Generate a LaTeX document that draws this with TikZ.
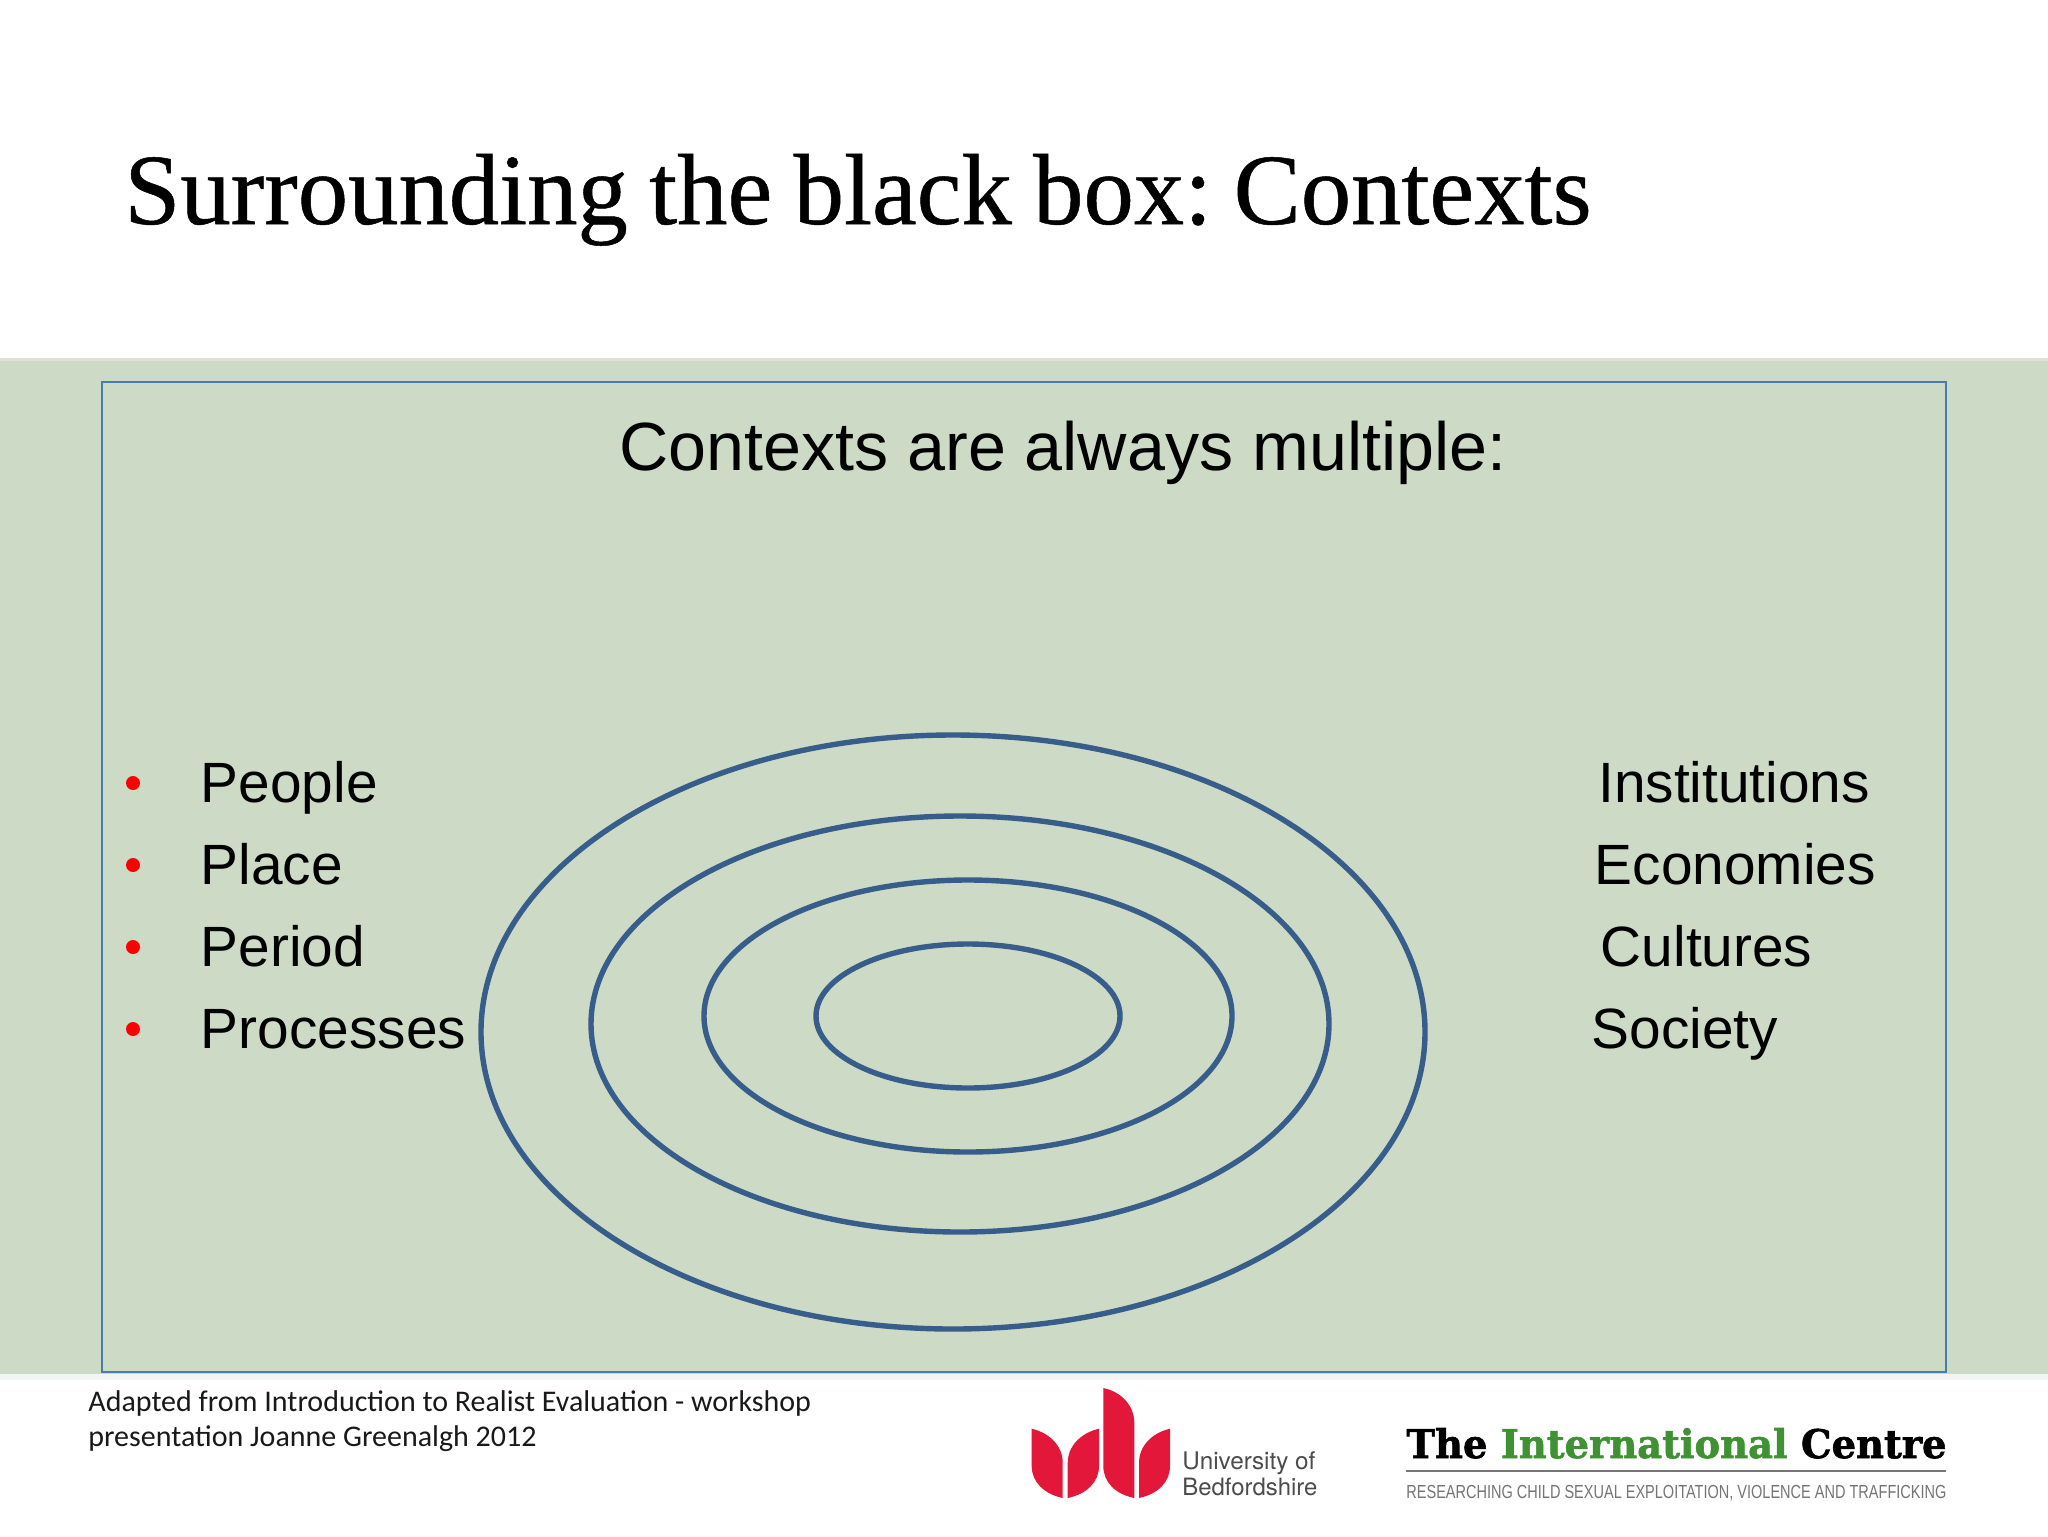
\documentclass[tikz,border=0pt]{standalone}
\usepackage{fontspec}
\setmainfont{Liberation Sans}
\newfontfamily\titlefont[FakeBold=0.5,WordSpace=0.85]{Liberation Serif}
\newfontfamily\footfont{Carlito}
\newfontfamily\slabfont[FakeBold=1.6]{DejaVu Serif Bold}
\newfontfamily\logofont{TeX Gyre Heros}
\definecolor{bandgreen}{HTML}{CCDAC6}
\definecolor{bandedge}{HTML}{DDE0DB}
\definecolor{footedge}{HTML}{F1F5F4}
\definecolor{boxblue}{HTML}{4A7BAA}
\definecolor{ringblue}{HTML}{385D8A}
\definecolor{petalred}{HTML}{E2173A}
\definecolor{logogreen}{HTML}{3F9134}
\definecolor{taggray}{HTML}{757575}
\tikzset{
  listtext/.style={anchor=base west,inner sep=0pt,font=\fontsize{28.4}{32}\selectfont,text=black},
  ring/.style={draw=ringblue,line width=2.7pt},
  bulletdot/.style={circle,fill=red,inner sep=0pt,minimum size=7pt},
  foottext/.style={anchor=base west,inner sep=0pt,font=\footfont\fontsize{15}{18}\selectfont,text=black!90},
  petal/.style={fill=petalred,draw=none}
}
\begin{document}
\begin{tikzpicture}[x=0.5pt,y=-0.5pt]
\useasboundingbox (0,0) rectangle (2048,1536);
\fill[white] (0,0) rectangle (2048,1536);
\fill[footedge] (0,1374) rectangle (2048,1380);
\fill[bandgreen] (0,358) rectangle (2048,1374);
\fill[bandedge] (0,358) rectangle (2048,361);
\draw[boxblue,line width=1.4pt] (102,382) rectangle (1946,1372);
\node[anchor=base west,inner sep=0pt] (title) at (124,224) {\titlefont\frenchspacing\resizebox{733.5pt}{35pt}{Surrounding the black box: Contexts}};
\node[anchor=base west,inner sep=0pt,font=\fontsize{34.1}{40}\selectfont] (head) at (619,470) {Contexts are always multiple:};
\foreach \n/\t/\y in {a/People/802,b/Place/884,c/Period/966,d/Processes/1048}{
  \node[listtext] (l\n) at (200.5,\y) {\t};
  \node[bulletdot] (b\n) at (133,\y-19) {};
}
\node[listtext] (r1) at (1598,802) {Institutions};
\node[listtext] (r2) at (1594.5,884) {Economies};
\node[listtext] (r3) at (1600.5,966) {Cultures};
\node[listtext] (r4) at (1591.5,1048) {Society};
\draw[ring] (953,1032) ellipse [x radius=472,y radius=297];
\draw[ring] (960,1024) ellipse [x radius=369,y radius=208];
\draw[ring] (968,1016) ellipse [x radius=264,y radius=136];
\draw[ring] (968,1016) ellipse [x radius=152,y radius=72];
\node[foottext] (f1) at (88,1411) {Adapted from Introduction to Realist Evaluation - workshop};
\node[foottext] (f2) at (88,1446) {presentation Joanne Greenalgh 2012};
% University logo
\fill[petal] (1031.7,1428.7) .. controls (1050,1433) and (1062.7,1446) .. (1062.7,1463) -- (1062.7,1498) .. controls (1044,1494) and (1031.7,1482) .. (1031.7,1466) -- cycle;
\fill[petal] (1099,1428.7) .. controls (1080.7,1433) and (1067.7,1446) .. (1067.7,1463) -- (1067.7,1498) .. controls (1086.7,1494) and (1099,1482) .. (1099,1466) -- cycle;
\fill[petal] (1103.3,1388) .. controls (1122,1392) and (1134.3,1406) .. (1134.3,1423) -- (1134.3,1498) .. controls (1115,1494) and (1103.3,1482) .. (1103.3,1466) -- cycle;
\fill[petal] (1170,1428.7) .. controls (1151.7,1433) and (1139,1446) .. (1139,1463) -- (1139,1498) .. controls (1158,1494) and (1170,1482) .. (1170,1466) -- cycle;
\node[anchor=base west,inner sep=0pt,text=black!70] (u1) at (1182,1469) {\logofont\resizebox{66.5pt}{!}{University of}};
\node[anchor=base west,inner sep=0pt,text=black!70] (u2) at (1182,1495) {\logofont\resizebox{67.5pt}{!}{Bedfordshire}};
% Centre logo
\node[anchor=base west,inner sep=0pt] (c1) at (1406,1458) {\slabfont\resizebox{270pt}{15pt}{The \textcolor{logogreen}{International} Centre}};
\draw[taggray,line width=1.1pt] (1406,1471) -- (1946,1471);
\node[anchor=base west,inner sep=0pt,text=taggray] (c2) at (1406,1498) {\resizebox{270pt}{6.6pt}{RESEARCHING CHILD SEXUAL EXPLOITATION, VIOLENCE AND TRAFFICKING}};
\end{tikzpicture}
\end{document}
